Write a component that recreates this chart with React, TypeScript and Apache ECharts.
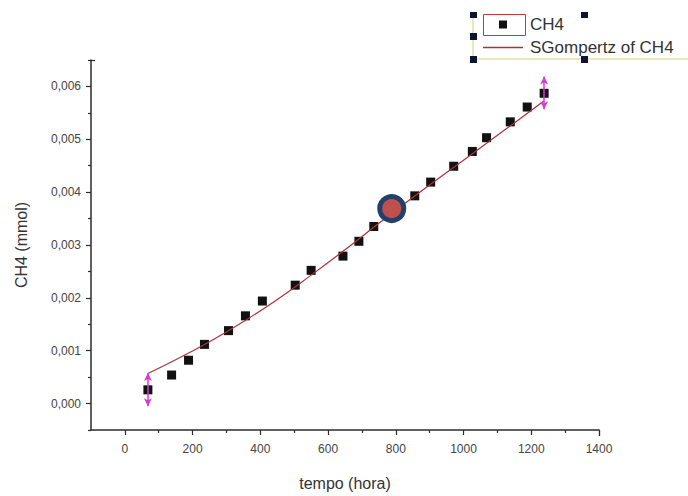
import React, { useEffect, useRef } from "react";
import * as echarts from "echarts";

const timeHours = [68, 138, 188, 235, 306, 356, 406, 503, 550, 644, 691, 735, 790, 856, 903, 971, 1026, 1068, 1138, 1188, 1238];
const ch4Values = [0.00026, 0.00054, 0.00082, 0.00112, 0.00138, 0.00166, 0.00194, 0.00224, 0.00252, 0.00279, 0.00307, 0.00335, 0.00363, 0.00393, 0.00419, 0.00449, 0.00477, 0.00503, 0.00533, 0.00561, 0.00587];

const fitHours = [68, 150, 250, 350, 450, 550, 650, 750, 850, 950, 1050, 1150, 1238];
const fitValues = [0.00057, 0.00083, 0.00117, 0.00155, 0.00197, 0.00243, 0.00291, 0.00341, 0.0039, 0.00437, 0.00484, 0.00531, 0.00573];

const errHours = [68, 1238];
const errLow = [-0.00005, 0.00557];
const errHigh = [0.00058, 0.00619];

const markerPoint = [[788, 0.00369]];

const xMajorTicks = [0, 200, 400, 600, 800, 1000, 1200, 1400];
const xMinorTicks = [100, 300, 500, 700, 900, 1100, 1300];
const yMajorTicks = [0, 0.001, 0.002, 0.003, 0.004, 0.005, 0.006];
const yMinorTicks = [-0.0005, 0.0005, 0.0015, 0.0025, 0.0035, 0.0045, 0.0055, 0.0065];

const legendNames = ["CH4", "SGompertz of CH4"];

const FONT = "Liberation Sans, Arial, sans-serif";
const AXIS_COLOR = "#2b2b2b";
const FIT_COLOR = "#b0303a";

// legend icons: bounding box pinned to 40x8 by tiny corner specks
const ICON_SQUARE = "path://M0,0L0.01,0L0,0.01Z M16,0L24,0L24,8L16,8Z M40,8L39.99,8L40,7.99Z";
const ICON_LINE = "path://M0,0L0.01,0L0,0.01Z M0,3.25L40,3.25L40,4.75L0,4.75Z M40,8L39.99,8L40,7.99Z";

export default function App() {
  const ref = useRef<HTMLDivElement>(null);
  useEffect(() => {
    if (!ref.current) return;
    const chart = echarts.init(ref.current, null, { renderer: "svg" });
    const fmtY = (v: number) => v.toFixed(3).replace(".", ",");
    const fmtX = (v: number) => String(Math.round(v));
    const axisCommon = { min: -100, max: 1400, splitLine: { show: false } };
    const yCommon = { min: -0.0005, max: 0.0065, splitLine: { show: false } };
    chart.setOption({
      animation: false,
      backgroundColor: "#ffffff",
      grid: { left: 91, right: 89, top: 60, bottom: 60 },
      xAxis: [
        {
          type: "value",
          ...axisCommon,
          position: "bottom",
          axisLine: { show: true, onZero: false, lineStyle: { color: AXIS_COLOR, width: 1.5 } },
          axisTick: { show: true, length: 3, customValues: xMinorTicks, lineStyle: { color: AXIS_COLOR, width: 1.2 } },
          axisLabel: { show: false },
          name: "tempo (hora)",
          nameLocation: "middle",
          nameGap: 45,
          nameTextStyle: { fontFamily: FONT, fontSize: 16, color: "#333" },
        },
        {
          type: "value",
          ...axisCommon,
          position: "bottom",
          axisLine: { show: false, onZero: false },
          axisTick: { show: true, length: 5, customValues: xMajorTicks, lineStyle: { color: AXIS_COLOR, width: 1.2 } },
          axisLabel: { show: true, customValues: xMajorTicks, margin: 13, fontFamily: FONT, fontSize: 12, color: "#444", formatter: fmtX },
        },
      ],
      yAxis: [
        {
          type: "value",
          ...yCommon,
          position: "left",
          axisLine: { show: true, onZero: false, lineStyle: { color: AXIS_COLOR, width: 1.5 } },
          axisTick: { show: true, length: 3, customValues: yMinorTicks, lineStyle: { color: AXIS_COLOR, width: 1.2 } },
          axisLabel: { show: false },
          name: "CH4 (mmol)",
          nameLocation: "middle",
          nameGap: 62,
          nameTextStyle: { fontFamily: FONT, fontSize: 16, color: "#333" },
        },
        {
          type: "value",
          ...yCommon,
          position: "left",
          axisLine: { show: false, onZero: false },
          axisTick: { show: true, length: 5, customValues: yMajorTicks, lineStyle: { color: AXIS_COLOR, width: 1.2 } },
          axisLabel: { show: true, customValues: yMajorTicks, margin: 10, fontFamily: FONT, fontSize: 12, color: "#444", formatter: fmtY },
        },
      ],
      legend: {
        orient: "vertical",
        left: 478,
        top: 11,
        itemWidth: 40,
        itemHeight: 8,
        itemGap: 6,
        data: [
          { name: legendNames[0], icon: ICON_SQUARE, itemStyle: { color: "#111" } },
          { name: legendNames[1], icon: ICON_LINE, itemStyle: { color: FIT_COLOR, borderWidth: 0 } },
        ],
        textStyle: { fontFamily: FONT, fontSize: 17, color: "#333", padding: [0, 0, 0, 2] },
        selectedMode: false,
      },
      series: [
        {
          name: legendNames[0],
          type: "scatter",
          symbol: "rect",
          symbolSize: 9,
          itemStyle: { color: "#111", opacity: 1 },
          data: timeHours.map((x, i) => [x, ch4Values[i]]),
          markLine: {
            silent: true,
            symbol: ["arrow", "arrow"],
            symbolSize: [6, 8],
            label: { show: false },
            lineStyle: { color: "#d63ad6", width: 1.5, type: "solid" },
            data: errHours.map((x, i) => [{ coord: [x, errLow[i]] }, { coord: [x, errHigh[i]] }]),
          },
          z: 3,
        },
        {
          name: legendNames[1],
          type: "line",
          symbol: "none",
          showSymbol: false,
          smooth: true,
          lineStyle: { color: FIT_COLOR, width: 1.2 },
          itemStyle: { color: FIT_COLOR },
          data: fitHours.map((x, i) => [x, fitValues[i]]),
          z: 4,
        },
        {
          name: "marker",
          type: "scatter",
          symbol: "circle",
          symbolSize: 24,
          itemStyle: { color: "#c0504d", borderColor: "#23406a", borderWidth: 5, opacity: 1 },
          data: markerPoint,
          z: 10,
        },
      ],
      graphic: [
        { type: "line", shape: { x1: 473, y1: 15, x2: 473, y2: 60 }, style: { stroke: "#e8e0a0", lineWidth: 1.5 }, z: 20 },
        { type: "line", shape: { x1: 473, y1: 59, x2: 688, y2: 59 }, style: { stroke: "#e8e0a0", lineWidth: 1.5 }, z: 20 },
        { type: "rect", shape: { x: 483.5, y: 14.5, width: 42, height: 21 }, style: { fill: "none", stroke: "#c8353a", lineWidth: 1 }, z: 21 },
        { type: "rect", shape: { x: 470, y: 12, width: 7, height: 6 }, style: { fill: "#0d1530" }, z: 22 },
        { type: "rect", shape: { x: 470, y: 33, width: 7, height: 7 }, style: { fill: "#0d1530" }, z: 22 },
        { type: "rect", shape: { x: 470, y: 56, width: 7, height: 7 }, style: { fill: "#0d1530" }, z: 22 },
        { type: "rect", shape: { x: 581, y: 12, width: 7, height: 6 }, style: { fill: "#0d1530" }, z: 22 },
        { type: "rect", shape: { x: 581, y: 56, width: 7, height: 7 }, style: { fill: "#0d1530" }, z: 22 },
        { type: "line", shape: { x1: 91, y1: 60.5, x2: 95, y2: 60.5 }, style: { stroke: AXIS_COLOR, lineWidth: 1.2 }, z: 5 },
        { type: "line", shape: { x1: 599.5, y1: 436, x2: 599.5, y2: 431 }, style: { stroke: AXIS_COLOR, lineWidth: 1.2 }, z: 5 },
      ],
    });
    return () => chart.dispose();
  }, []);
  return <div ref={ref} style={{ width: 688, height: 496, position: "absolute", left: 0, top: 0 }} />;
}
